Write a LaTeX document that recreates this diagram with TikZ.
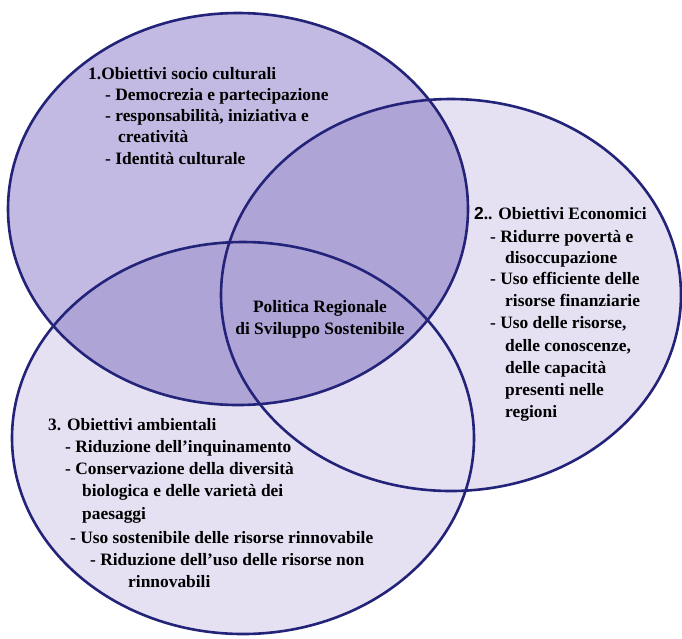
\documentclass[tikz,border=0pt]{standalone}
\usepackage{fontspec}
\setmainfont{Liberation Serif}
\newfontfamily\numfont{Liberation Sans}
\usetikzlibrary{shapes.geometric}

\definecolor{rimblue}{HTML}{23237A}
\definecolor{lightlilac}{HTML}{E5E1F2}
\definecolor{darklilac}{HTML}{C2BAE2}

\begin{document}
\begin{tikzpicture}[x=1pt, y=-1pt,
		set_style/.style={ellipse, inner sep=0pt, minimum width=#1},
		rim_style/.style={draw=rimblue, line width=2.6pt},
		text_style/.style={anchor=base west, inner sep=0pt, font=\bfseries\fontsize{17.4}{20}\selectfont}]

		\useasboundingbox (0,0) rectangle (682,638);

		% the three sets
		\node[set_style=460pt, minimum height=392pt, fill=lightlilac] (e2) at (451,295) {};
		\node[set_style=462pt, minimum height=392pt, fill=lightlilac] (e3) at (243,438) {};
		\begin{scope}[blend mode=multiply]
		\node[set_style=460pt, minimum height=392pt, fill=darklilac] (e1) at (238,209) {};
		\end{scope}
		\node[set_style=460pt, minimum height=392pt, rim_style] at (e2) {};
		\node[set_style=462pt, minimum height=392pt, rim_style] at (e3) {};
		\node[set_style=460pt, minimum height=392pt, rim_style] at (e1) {};

		% 1
		\node[text_style] (t1) at (88,79)  {1.Obiettivi socio culturali};
		\node[text_style] (t1a) at (105,100) {- Democrezia e partecipazione};
		\node[text_style] (t1b) at (105,121) {- responsabilità, iniziativa e};
		\node[text_style] (t1c) at (118,142) {creatività};
		\node[text_style] (t1d) at (105,164) {- Identità culturale};

		% 2
		\node[text_style] (t2) at (474,219) {{\numfont 2}.. Obiettivi Economici};
		\node[text_style] (t2a) at (490,242) {- Ridurre povertà e};
		\node[text_style] (t2b) at (505,263) {disoccupazione};
		\node[text_style] (t2c) at (490,284) {- Uso efficiente delle};
		\node[text_style] (t2d) at (505,306) {risorse finanziarie};
		\node[text_style] (t2e) at (490,328) {- Uso delle risorse,};
		\node[text_style] (t2f) at (505,351) {delle conoscenze,};
		\node[text_style] (t2g) at (505,373) {delle capacità};
		\node[text_style] (t2h) at (505,395) {presenti nelle};
		\node[text_style] (t2i) at (505,417) {regioni};

		% centre
		\node[text_style, anchor=base] (c1) at (320,312) {Politica Regionale};
		\node[text_style, anchor=base] (c2) at (320,334) {di Sviluppo Sostenibile};

		% 3
		\node[text_style] (t3) at (48,430)  {3. Obiettivi ambientali};
		\node[text_style] (t3a) at (65,452)  {- Riduzione dell’inquinamento};
		\node[text_style] (t3b) at (65,474)  {- Conservazione della diversità};
		\node[text_style] (t3c) at (82,496)  {biologica e delle varietà dei};
		\node[text_style] (t3d) at (82,519)  {paesaggi};
		\node[text_style] (t3e) at (70,543)  {- Uso sostenibile delle risorse rinnovabile};
		\node[text_style] (t3f) at (90,565)  {- Riduzione dell’uso delle risorse non};
		\node[text_style] (t3g) at (128,587) {rinnovabili};
\end{tikzpicture}
\end{document}
